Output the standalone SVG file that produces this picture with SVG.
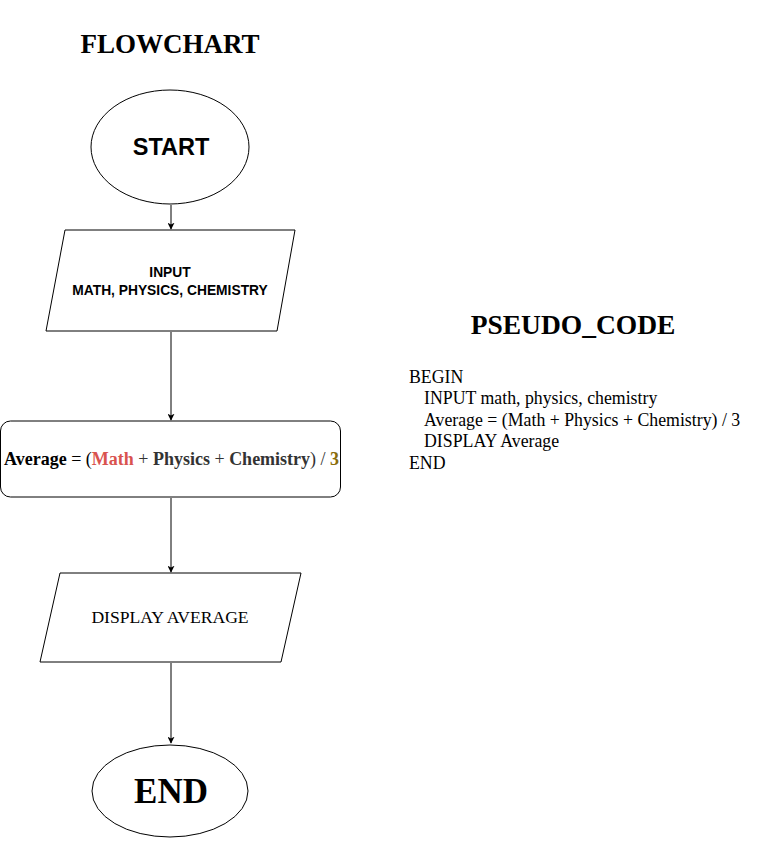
<svg xmlns="http://www.w3.org/2000/svg" width="768" height="841" viewBox="0 0 768 841">
<style>
.shape{fill:#fff;stroke:#000;stroke-width:1}
.conn{stroke:#000;stroke-width:1;fill:none}
.serif{font-family:"Liberation Serif","Times New Roman",serif}
.sans{font-family:"Liberation Sans",Arial,sans-serif}
</style>
<defs>
<marker id="arr" viewBox="0 0 10 10" refX="9" refY="5" markerWidth="7" markerHeight="7" orient="auto" markerUnits="userSpaceOnUse">
<path d="M0,0 L10,5 L0,10 L2.5,5 Z" fill="#000"/>
</marker>
</defs>
<rect width="768" height="841" fill="#fff"/>
<g id="title-flowchart"><text x="170" y="53" text-anchor="middle" class="serif" font-size="27" font-weight="bold">FLOWCHART</text></g>
<g id="title-pseudo"><text x="573" y="334" text-anchor="middle" class="serif" font-size="27.5" font-weight="bold">PSEUDO_CODE</text></g>
<g id="pseudo-code" class="serif" font-size="17.8">
<text x="409" y="383">BEGIN</text>
<text x="424" y="404">INPUT math, physics, chemistry</text>
<text x="424" y="426">Average = (Math + Physics + Chemistry) / 3</text>
<text x="424" y="447">DISPLAY Average</text>
<text x="409" y="469">END</text>
</g>
<g id="connectors">
<line class="conn" x1="171" y1="205" x2="171" y2="229" marker-end="url(#arr)"/>
<line class="conn" x1="171" y1="332" x2="171" y2="420" marker-end="url(#arr)"/>
<line class="conn" x1="171" y1="498" x2="171" y2="572" marker-end="url(#arr)"/>
<line class="conn" x1="171" y1="663" x2="171" y2="743" marker-end="url(#arr)"/>
</g>
<g id="start">
<ellipse class="shape" cx="170" cy="147" rx="79" ry="57"/>
<text x="171" y="155" text-anchor="middle" class="sans" font-size="23.5" font-weight="bold">START</text>
</g>
<g id="input">
<polygon class="shape" points="65,230 295,230 277,331 46,331"/>
<text x="170" y="277" text-anchor="middle" class="sans" font-size="13.8" font-weight="bold">INPUT</text>
<text x="170" y="295" text-anchor="middle" class="sans" font-size="13.8" font-weight="bold">MATH, PHYSICS, CHEMISTRY</text>
</g>
<g id="process">
<rect class="shape" x="0.5" y="421" width="340" height="76" rx="10" ry="10"/>
<text x="4" y="465" class="serif" font-size="18" font-weight="bold"><tspan fill="#000">Average</tspan><tspan fill="#000" font-weight="normal"> = (</tspan><tspan fill="#d9534f">Math</tspan><tspan fill="#333" font-weight="normal"> + </tspan><tspan fill="#333">Physics</tspan><tspan fill="#333" font-weight="normal"> + </tspan><tspan fill="#333">Chemistry</tspan><tspan fill="#333" font-weight="normal">) / </tspan><tspan fill="#8a6d0b">3</tspan></text>
</g>
<g id="display">
<polygon class="shape" points="60,573 301,573 281,662 40,662"/>
<text x="170" y="623" text-anchor="middle" class="serif" font-size="17.6">DISPLAY AVERAGE</text>
</g>
<g id="end">
<ellipse class="shape" cx="170" cy="791" rx="78" ry="46"/>
<text x="171" y="803" text-anchor="middle" class="serif" font-size="35" font-weight="bold">END</text>
</g>
</svg>
